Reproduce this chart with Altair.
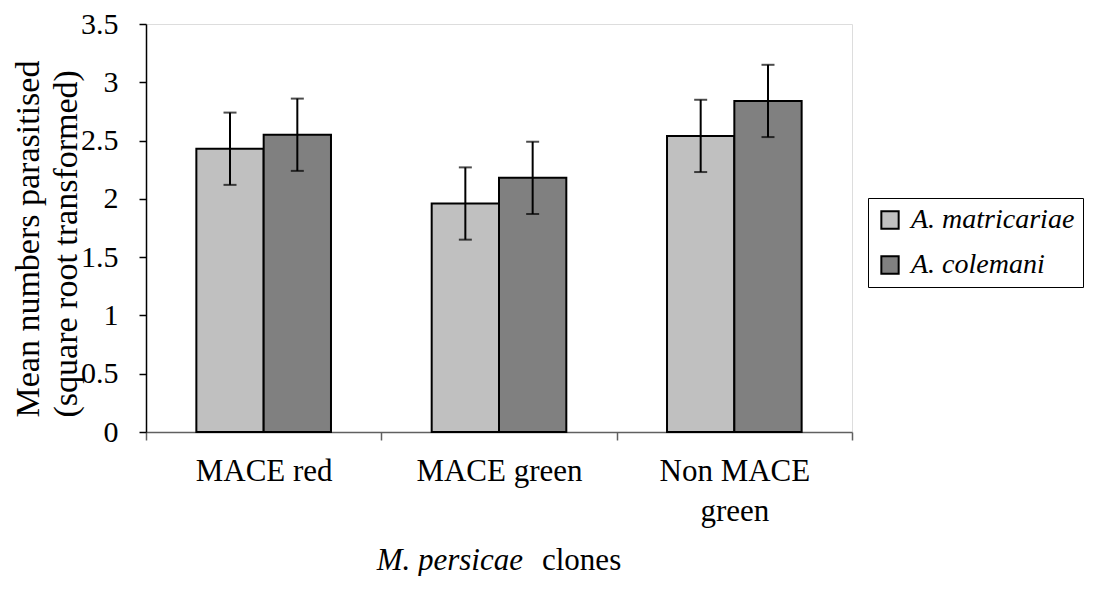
import altair as alt
import pandas as pd

clones = ["MACE red", "MACE green", "Non MACE green"]
species = ["A. matricariae", "A. colemani"]
mean_matricariae = [2.43, 1.96, 2.54]
mean_colemani = [2.55, 2.18, 2.84]
err_matricariae = [0.31, 0.31, 0.31]
err_colemani = [0.31, 0.31, 0.31]
y_ticks = [0, 0.5, 1, 1.5, 2, 2.5, 3, 3.5]
colors = ["#C0C0C0", "#808080"]

rows = []
for i, c in enumerate(clones):
    for sp, m, e in ((species[0], mean_matricariae[i], err_matricariae[i]),
                     (species[1], mean_colemani[i], err_colemani[i])):
        rows.append({"clone": c, "species": sp, "mean": m, "lo": m - e, "hi": m + e})
df = pd.DataFrame(rows)

FONT = "Liberation Serif"

x_enc = alt.X(
    "clone:N", sort=clones,
    scale=alt.Scale(paddingInner=0, paddingOuter=0),
    axis=alt.Axis(
        title=None, labelAngle=0, labelFont=FONT, labelFontSize=31, labelColor="black",
        tickBand="extent", tickSize=8, tickColor="#606060", tickWidth=1.5,
        domainColor="#606060", domainWidth=1.5, labelPadding=16, labelLineHeight=40,
        labelLimit=400,
        labelExpr="datum.label == 'Non MACE green' ? ['Non MACE', 'green'] : datum.label",
    ),
)
xo_enc = alt.XOffset("species:N", sort=species,
                     scale=alt.Scale(paddingInner=0, paddingOuter=0.748))
y_enc = alt.Y(
    "mean:Q",
    scale=alt.Scale(domain=[0, 3.5], nice=False),
    axis=alt.Axis(
        values=y_ticks, format="~g", grid=False,
        labelFont=FONT, labelFontSize=30, labelColor="black", labelPadding=21,
        tickSize=7, tickColor="black", tickWidth=1.5, domainColor="black", domainWidth=1.5,
        title=["Mean numbers parasitised", "(square root transformed)"],
        titleFont=FONT, titleFontSize=34, titleFontWeight="normal", titleColor="black",
        titleAngle=270, titleAlign="left", titleBaseline="alphabetic",
        titleX=-108, titleY=393, titleLineHeight=38,
    ),
)
color_enc = alt.Color(
    "species:N", sort=species,
    scale=alt.Scale(domain=species, range=colors),
    legend=alt.Legend(
        title=None, orient="none", legendX=722, legendY=174,
        strokeColor="black", fillColor="white", padding=8,
        symbolType="square", symbolSize=300, symbolStrokeColor="black", symbolStrokeWidth=2,
        labelFont=FONT, labelFontSize=28, labelFontStyle="italic", labelColor="black",
        labelOffset=7, rowPadding=17, labelLimit=400,
    ),
)

base = alt.Chart(df)
bars = base.mark_bar(stroke="black", strokeWidth=2).encode(
    x=x_enc, xOffset=xo_enc, y=y_enc, color=color_enc
)
rules = base.mark_rule(color="black", strokeWidth=2).encode(
    x=x_enc, xOffset=xo_enc, y="lo:Q", y2="hi:Q"
)
cap_hi = base.mark_tick(color="black", thickness=2, size=13).encode(
    x=x_enc, xOffset=xo_enc, y="hi:Q"
)
cap_lo = base.mark_tick(color="black", thickness=2, size=13).encode(
    x=x_enc, xOffset=xo_enc, y="lo:Q"
)

t1 = alt.Chart(pd.DataFrame({"t": ["M. persicae"]})).mark_text(
    font=FONT, fontSize=31, fontStyle="italic", align="right", baseline="alphabetic", color="black"
).encode(text="t:N", x=alt.value(377), y=alt.value(546))
t2 = alt.Chart(pd.DataFrame({"t": ["clones"]})).mark_text(
    font=FONT, fontSize=31, align="left", baseline="alphabetic", color="black"
).encode(text="t:N", x=alt.value(396), y=alt.value(546))

chart = alt.layer(bars, rules, cap_hi, cap_lo, t1, t2).properties(
    width=706, height=408,
    padding={"left": 138, "top": 16, "right": 236, "bottom": 144},
    autosize="none",
).configure_view(stroke="#7f7f7f", strokeWidth=2).configure(background="white")

chart.save("out.html", embed_options={"renderer": "svg", "actions": False})
